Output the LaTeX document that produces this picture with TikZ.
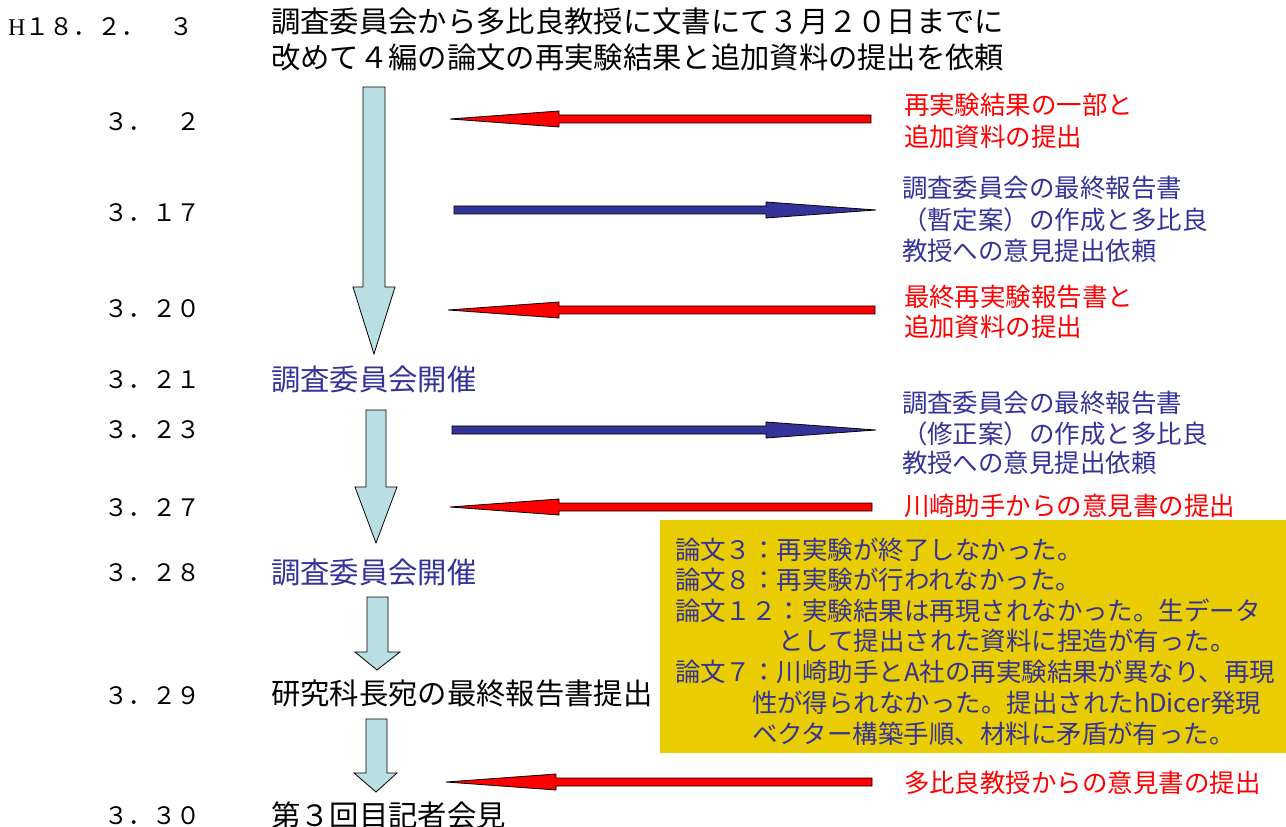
\documentclass[tikz,border=0pt]{standalone}
\usepackage{fontspec}
\setmainfont{Noto Sans CJK JP}
\newfontfamily\latinserif{Liberation Serif}
\definecolor{navy}{RGB}{51,51,153}
\definecolor{paleblue}{RGB}{185,223,226}
\definecolor{boxyellow}{RGB}{234,205,0}
\begin{document}
\begin{tikzpicture}[x=0.75pt,y=-0.75pt,
  lbl/.style={anchor=base west,inner sep=0pt,outer sep=0pt},
  datelbl/.style={lbl,font=\fontsize{18}{18}\selectfont},
  mainlbl/.style={lbl,font=\fontsize{22}{22}\selectfont},
  sidelbl/.style={lbl,font=\fontsize{19.1}{19.1}\selectfont},
  downarrow/.style={draw=black,line width=0.6pt,fill=paleblue},
  redarrow/.style={draw=black,line width=0.6pt,fill=red},
  bluearrow/.style={draw=black,line width=0.6pt,fill=navy}]
\useasboundingbox (0,0) rectangle (1286,827);

% yellow box
\fill[boxyellow] (660,520) rectangle (1286,753);

% dates
\node[datelbl] (d0) at (8,36) {{\latinserif H}１８．２．　３};
\node[datelbl] (d1) at (104,131) {３．　２};
\node[datelbl] (d2) at (104,222) {３．１７};
\node[datelbl] (d3) at (104,318) {３．２０};
\node[datelbl] (d4) at (104,389) {３．２１};
\node[datelbl] (d5) at (104,439) {３．２３};
\node[datelbl] (d6) at (104,516) {３．２７};
\node[datelbl] (d7) at (104,581) {３．２８};
\node[datelbl] (d8) at (104,704) {３．２９};
\node[datelbl] (d9) at (104,824) {３．３０};

% main events
\node[mainlbl] (t1) at (271,33) {調査委員会から多比良教授に文書にて３月２０日までに};
\node[mainlbl] (t2) at (271,69) {改めて４編の論文の再実験結果と追加資料の提出を依頼};
\node[mainlbl,text=navy] (e1) at (271,391) {調査委員会開催};
\node[mainlbl,text=navy] (e2) at (271,583) {調査委員会開催};
\node[mainlbl] (e3) at (271,704) {研究科長宛の最終報告書提出};
\node[mainlbl] (e4) at (271,826) {第３回目記者会見};

% side notes
\node[sidelbl,text=red] (r1a) at (904,115) {再実験結果の一部と};
\node[sidelbl,text=red] (r1b) at (904,147) {追加資料の提出};
\node[sidelbl,text=navy] (b1a) at (902,198) {調査委員会の最終報告書};
\node[sidelbl,text=navy] (b1b) at (902,230) {（暫定案）の作成と多比良};
\node[sidelbl,text=navy] (b1c) at (902,261) {教授への意見提出依頼};
\node[sidelbl,text=red] (r2a) at (904,307) {最終再実験報告書と};
\node[sidelbl,text=red] (r2b) at (904,337) {追加資料の提出};
\node[sidelbl,text=navy] (b2a) at (902,412) {調査委員会の最終報告書};
\node[sidelbl,text=navy] (b2b) at (902,443) {（修正案）の作成と多比良};
\node[sidelbl,text=navy] (b2c) at (902,472) {教授への意見提出依頼};
\node[sidelbl,text=red] (r3) at (904,515) {川崎助手からの意見書の提出};
\node[sidelbl,text=red] (r4) at (904,792) {多比良教授からの意見書の提出};

% yellow box text
\node[sidelbl,text=navy] (y1) at (675,559) {論文３：再実験が終了しなかった。};
\node[sidelbl,text=navy] (y2) at (675,589) {論文８：再実験が行われなかった。};
\node[sidelbl,text=navy] (y3) at (675,620) {論文１２：実験結果は再現されなかった。生データ};
\node[sidelbl,text=navy] (y4) at (778,650) {として提出された資料に捏造が有った。};
\node[sidelbl,text=navy] (y5) at (675,681) {論文７：川崎助手とA社の再実験結果が異なり、再現};
\node[sidelbl,text=navy] (y6) at (752,712) {性が得られなかった。提出されたhDicer発現};
\node[sidelbl,text=navy] (y7) at (752,743) {ベクター構築手順、材料に矛盾が有った。};

% vertical block arrows
\draw[downarrow] (363,87) -- (385,87) -- (385,287) -- (395,287) -- (374,354) -- (353,287) -- (363,287) -- cycle;
\draw[downarrow] (366,410) -- (386,410) -- (386,487) -- (397,487) -- (376,543) -- (355,487) -- (366,487) -- cycle;
\draw[downarrow] (367,597) -- (388,597) -- (388,652) -- (400,652) -- (377,670) -- (355,652) -- (367,652) -- cycle;
\draw[downarrow] (366,719) -- (387,719) -- (387,773) -- (397,773) -- (376,792) -- (354,773) -- (366,773) -- cycle;

% horizontal arrows
\draw[redarrow] (871,115) -- (559,115) -- (559,111) -- (450,119) -- (559,127) -- (559,123) -- (871,123) -- cycle;
\draw[bluearrow] (454,206) -- (766,206) -- (766,202) -- (876,210) -- (766,218) -- (766,214) -- (454,214) -- cycle;
\draw[redarrow] (875,306) -- (559,306) -- (559,302) -- (448,310) -- (559,318) -- (559,314) -- (875,314) -- cycle;
\draw[bluearrow] (452,426) -- (766,426) -- (766,422) -- (876,430) -- (766,438) -- (766,434) -- (452,434) -- cycle;
\draw[redarrow] (872,503) -- (559,503) -- (559,499) -- (450,507) -- (559,515) -- (559,511) -- (872,511) -- cycle;
\draw[redarrow] (872,778) -- (556,778) -- (556,774) -- (446,782) -- (556,790) -- (556,786) -- (872,786) -- cycle;
\end{tikzpicture}
\end{document}
